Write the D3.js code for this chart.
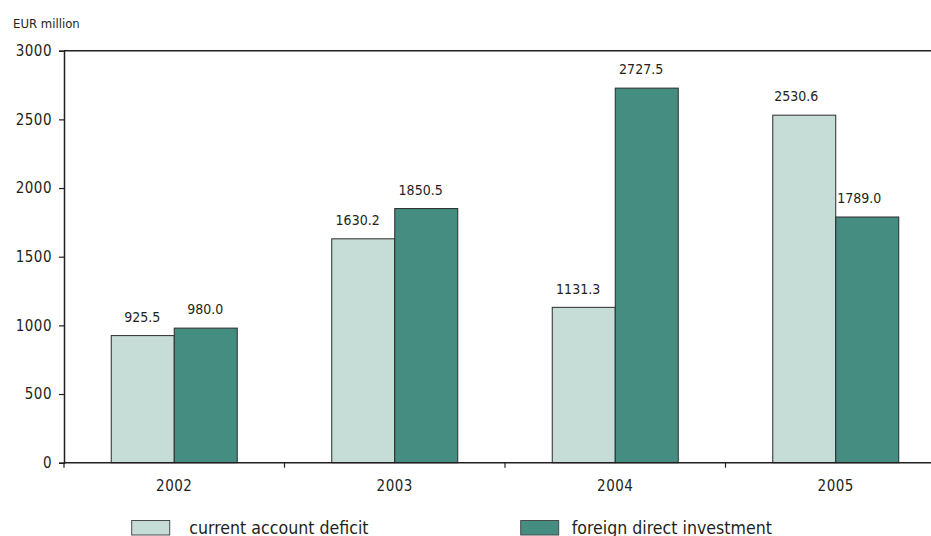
<!DOCTYPE html>
<html>
<head>
<meta charset="utf-8">
<script src="https://cdn.jsdelivr.net/npm/d3@7"></script>
<style>
  html, body { margin: 0; padding: 0; background: #fff; }
  svg { display: block; }
  text { font-family: "DejaVu Sans Condensed", "DejaVu Sans", sans-serif; fill: #231f20; }
</style>
</head>
<body>
<svg id="chart" width="931" height="536"></svg>
<script>
// Balance of payments, EUR million
const years = ["2002", "2003", "2004", "2005"];
const seriesNames = ["current account deficit", "foreign direct investment"];
const currentAccountDeficit = [925.5, 1630.2, 1131.3, 2530.6];
const foreignDirectInvestment = [980.0, 1850.5, 2727.5, 1789.0];
const yTicks = [0, 500, 1000, 1500, 2000, 2500, 3000];
const seriesColors = ["#c6dcd6", "#468d81"];

// horizontal nudge of the value labels per year group (px)
const labelNudge = { "2002": -0.5, "2003": -5.6, "2004": -5.6, "2005": -8 };

const seriesValues = [currentAccountDeficit, foreignDirectInvestment];
const data = years.map((yr, i) => ({
  year: yr,
  values: seriesNames.map((s, j) => ({ series: s, year: yr, value: seriesValues[j][i] }))
}));

const svg = d3.select("#chart");
const plotLeft = 64, plotRight = 946, plotTop = 50.7, plotBottom = 462.7;

const x0 = d3.scaleBand().domain(years).range([plotLeft, plotRight]).padding(0);
const x1 = d3.scaleBand().domain(seriesNames).range([0, x0.bandwidth()])
  .paddingInner(0).paddingOuter(0.75);
const y = d3.scaleLinear().domain([0, 3000]).range([plotBottom, plotTop]);
const color = d3.scaleOrdinal().domain(seriesNames).range(seriesColors);

// frame top line
svg.append("line")
  .attr("x1", plotLeft).attr("x2", plotRight)
  .attr("y1", y(3000)).attr("y2", y(3000))
  .attr("stroke", "#231f20").attr("stroke-width", 1.5);

// bars
const groups = svg.append("g").selectAll("g").data(data).join("g")
  .attr("transform", d => `translate(${x0(d.year)},0)`);

groups.selectAll("rect").data(d => d.values).join("rect")
  .attr("x", d => x1(d.series))
  .attr("y", d => y(d.value))
  .attr("width", x1.bandwidth())
  .attr("height", d => y(0) - y(d.value))
  .attr("fill", d => color(d.series))
  .attr("stroke", "#2b2b2b").attr("stroke-width", 1);

// value labels
groups.selectAll("text.val").data(d => d.values).join("text")
  .attr("class", "val")
  .attr("x", d => x1(d.series) + x1.bandwidth() / 2 + labelNudge[d.year])
  .attr("y", d => y(d.value) - 13.8)
  .attr("text-anchor", "middle")
  .attr("font-size", 14)
  .text(d => d.value.toFixed(1));

// y axis
const yAxis = svg.append("g")
  .attr("transform", `translate(${plotLeft},0)`)
  .call(d3.axisLeft(y).tickValues(yTicks).tickSize(5).tickPadding(7).tickFormat(d3.format("d")));
yAxis.select(".domain").attr("stroke", "#231f20").attr("stroke-width", 1.5);
yAxis.selectAll(".tick line").attr("stroke", "#231f20").attr("stroke-width", 1.2);
yAxis.selectAll("text").attr("font-size", 15).attr("letter-spacing", 0.5)
  .style("font-family", "'DejaVu Sans Condensed', sans-serif").attr("fill", "#231f20");

// x axis: ticks at category boundaries
const boundaries = years.map(yr => x0(yr));
const xAxis = svg.append("g").attr("transform", `translate(0,${plotBottom})`);
xAxis.append("line").attr("x1", plotLeft).attr("x2", plotRight)
  .attr("stroke", "#231f20").attr("stroke-width", 1.5);
xAxis.selectAll("line.tk").data(boundaries).join("line")
  .attr("class", "tk")
  .attr("x1", d => d).attr("x2", d => d)
  .attr("y1", 0).attr("y2", 5)
  .attr("stroke", "#231f20").attr("stroke-width", 1.2);
xAxis.selectAll("text").data(years).join("text")
  .attr("x", d => x0(d) + x0.bandwidth() / 2)
  .attr("y", 28.5)
  .attr("text-anchor", "middle")
  .attr("font-size", 15).attr("letter-spacing", 0.5)
  .text(d => d);

// axis title
svg.append("text").attr("x", 13).attr("y", 27.5)
  .attr("font-size", 13).text("EUR million");

// legend
const legendX = [131.7, 520.7];
const legendTextX = [189.3, 571.7];
const legend = svg.append("g").selectAll("g").data(seriesNames).join("g");
legend.append("rect")
  .attr("x", (d, i) => legendX[i]).attr("y", 520.5)
  .attr("width", 38).attr("height", 14.5)
  .attr("fill", d => color(d))
  .attr("stroke", "#4a4a4a").attr("stroke-width", 1);
legend.append("text")
  .attr("x", (d, i) => legendTextX[i]).attr("y", 533.5)
  .attr("font-size", 17.6)
  .text(d => d);
</script>
</body>
</html>
